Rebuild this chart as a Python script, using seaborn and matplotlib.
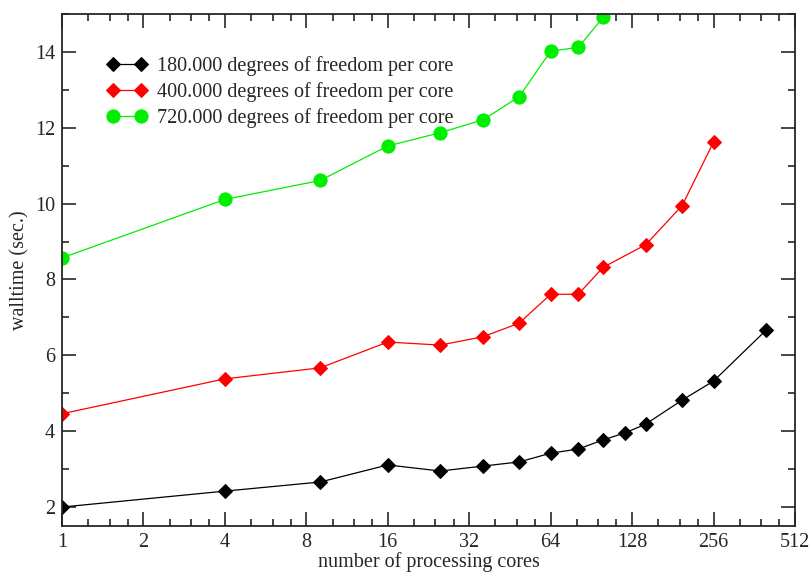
import pandas as pd
import seaborn as sns
import matplotlib.pyplot as plt
import matplotlib.ticker as mticker
import numpy as np

# cores (squares of integers)
cores_180 = [1, 4, 9, 16, 25, 36, 49, 64, 81, 100, 121, 144, 196, 256, 400]
time_180 = [2.00, 2.42, 2.66, 3.11, 2.95, 3.08, 3.19, 3.42, 3.53, 3.77, 3.96, 4.19, 4.82, 5.32, 6.66]

cores_400 = [1, 4, 9, 16, 25, 36, 49, 64, 81, 100, 144, 196, 256]
time_400 = [4.46, 5.38, 5.67, 6.35, 6.27, 6.49, 6.85, 7.61, 7.61, 8.32, 8.92, 9.95, 11.62]

cores_720 = [1, 4, 9, 16, 25, 36, 49, 64, 81, 100]
time_720 = [8.57, 10.11, 10.61, 11.52, 11.87, 12.21, 12.82, 14.02, 14.12, 14.91]

labels = ['180.000 degrees of freedom per core',
          '400.000 degrees of freedom per core',
          '720.000 degrees of freedom per core']


def myplot():
	sns.set_style('ticks')
	plt.rcParams['font.family'] = ['Liberation Serif', 'DejaVu Serif']

	fig = plt.figure(figsize=(8.12, 5.73), dpi=100)
	ax = fig.add_axes([0.0764, 0.082, 0.9026, 0.8936])

	sns.lineplot(x=cores_180, y=time_180, color='black', marker='D', markersize=7,
				 markeredgecolor='black', linewidth=0.9, label=labels[0], ax=ax)
	sns.lineplot(x=cores_400, y=time_400, color='#ff0000', marker='D', markersize=7,
				 markeredgecolor='#ff0000', linewidth=0.9, label=labels[1], ax=ax)
	sns.lineplot(x=cores_720, y=time_720, color='#00ee00', marker='o', markersize=9.5,
				 markeredgecolor='#00ee00', linewidth=0.9, label=labels[2], ax=ax)

	ax.set_xscale('log', base=2)
	ax.set_xlim(1, 512)
	ax.set_ylim(1.5, 15)
	ax.xaxis.set_major_locator(mticker.FixedLocator([1, 2, 4, 8, 16, 32, 64, 128, 256, 512]))
	ax.xaxis.set_major_formatter(mticker.FixedFormatter(['1', '2', '4', '8', '16', '32', '64', '128', '256', '512']))
	ax.xaxis.set_minor_locator(mticker.LogLocator(base=2, subs=[1.25, 1.5, 1.75], numticks=20))
	ax.xaxis.set_minor_formatter(mticker.NullFormatter())
	ax.yaxis.set_major_locator(mticker.MultipleLocator(2))
	ax.yaxis.set_minor_locator(mticker.MultipleLocator(1))

	ax.tick_params(which='both', direction='in', top=True, right=True, labelsize=14.5, width=1.2)
	ax.tick_params(which='major', length=10, pad=5)
	ax.tick_params(which='minor', length=5)
	for s in ax.spines.values():
		s.set_linewidth(1.3)

	ax.set_xlabel('number of processing cores', fontsize=14.5, labelpad=0)
	ax.set_ylabel('walltime (sec.)', fontsize=14.5, labelpad=4)

	leg = ax.legend(loc='upper left', bbox_to_anchor=(0.061, 0.918), frameon=False, fontsize=14.5,
					numpoints=2, handlelength=2.0, handletextpad=0.5, labelspacing=0.3,
					borderaxespad=0, borderpad=0)

	plt.savefig('out.png', dpi=100)


myplot()
